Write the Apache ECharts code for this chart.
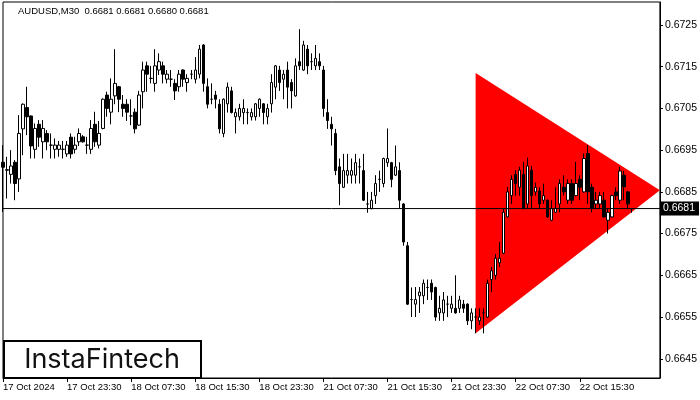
<!DOCTYPE html>
<html>
<head>
<meta charset="utf-8">
<script src="https://cdn.jsdelivr.net/npm/echarts@6/dist/echarts.min.js"></script>
<style>
html,body{margin:0;padding:0;background:#fff;}
#chart{width:700px;height:400px;}
</style>
</head>
<body>
<div id="chart"></div>
<script>
// ---- data (open, close, low, high) ----
const ohlc = [
[0.66921,0.66909,0.66802,0.66962],[0.66903,0.66902,0.66834,0.66934],[0.66892,0.66912,0.66870,0.66950],[0.66921,0.66870,0.66830,0.66926],
[0.66881,0.66990,0.66850,0.67034],[0.67001,0.67060,0.66938,0.67062],[0.67052,0.67030,0.66986,0.67102],[0.67032,0.66960,0.66930,0.67033],
[0.66952,0.67002,0.66930,0.67014],[0.67012,0.66981,0.66958,0.67022],[0.66970,0.67002,0.66930,0.67022],[0.66990,0.66970,0.66950,0.66998],
[0.66962,0.66962,0.66930,0.66990],[0.66952,0.66962,0.66930,0.66978],[0.66952,0.66962,0.66934,0.66972],[0.66952,0.66952,0.66930,0.66972],
[0.66941,0.66962,0.66934,0.66972],[0.66981,0.66941,0.66930,0.66990],[0.66952,0.66962,0.66942,0.66982],[0.66970,0.66990,0.66960,0.67002],
[0.66982,0.66970,0.66968,0.66986],[0.66962,0.66962,0.66941,0.66982],[0.66952,0.67002,0.66941,0.67022],[0.67012,0.66970,0.66958,0.67042],
[0.66962,0.66990,0.66954,0.67020],[0.67002,0.67072,0.67000,0.67074],[0.67082,0.67050,0.67030,0.67090],[0.67041,0.67072,0.67012,0.67122],
[0.67080,0.67110,0.67060,0.67192],[0.67102,0.67072,0.67041,0.67104],[0.67060,0.67050,0.67030,0.67082],[0.67060,0.67041,0.67020,0.67072],
[0.67032,0.67032,0.67010,0.67072],[0.67041,0.67001,0.66990,0.67050],[0.67010,0.67082,0.67008,0.67092],[0.67090,0.67142,0.67050,0.67162],
[0.67152,0.67132,0.67090,0.67162],[0.67122,0.67122,0.67110,0.67152],[0.67110,0.67152,0.67090,0.67192],[0.67142,0.67162,0.67130,0.67182],
[0.67152,0.67132,0.67110,0.67162],[0.67120,0.67132,0.67110,0.67142],[0.67120,0.67120,0.67102,0.67142],[0.67110,0.67092,0.67070,0.67120],
[0.67102,0.67132,0.67090,0.67142],[0.67142,0.67120,0.67102,0.67144],[0.67112,0.67122,0.67090,0.67132],[0.67132,0.67132,0.67120,0.67142],
[0.67120,0.67142,0.67110,0.67173],[0.67132,0.67192,0.67122,0.67202],[0.67202,0.67110,0.67090,0.67204],[0.67102,0.67060,0.67050,0.67122],
[0.67072,0.67072,0.67060,0.67110],[0.67082,0.67072,0.67050,0.67092],[0.67060,0.67001,0.66990,0.67072],[0.66990,0.67072,0.66981,0.67074],
[0.67061,0.67101,0.67040,0.67112],[0.67092,0.67040,0.67038,0.67102],[0.67030,0.67040,0.66990,0.67050],[0.67030,0.67050,0.67021,0.67061],
[0.67040,0.67050,0.67012,0.67072],[0.67040,0.67040,0.67012,0.67050],[0.67030,0.67040,0.67021,0.67050],[0.67030,0.67061,0.67021,0.67063],
[0.67050,0.67072,0.67030,0.67074],[0.67061,0.67040,0.67012,0.67063],[0.67030,0.67050,0.67012,0.67061],[0.67061,0.67112,0.67040,0.67132],
[0.67101,0.67152,0.67072,0.67154],[0.67142,0.67112,0.67092,0.67152],[0.67120,0.67132,0.67072,0.67142],[0.67142,0.67101,0.67050,0.67162],
[0.67112,0.67092,0.67050,0.67120],[0.67080,0.67152,0.67078,0.67170],[0.67162,0.67152,0.67142,0.67240],[0.67142,0.67202,0.67140,0.67212],
[0.67192,0.67152,0.67132,0.67202],[0.67162,0.67162,0.67142,0.67182],[0.67152,0.67170,0.67142,0.67202],[0.67162,0.67152,0.67142,0.67182],
[0.67142,0.67050,0.67030,0.67152],[0.67040,0.67021,0.67001,0.67072],[0.67012,0.67001,0.66961,0.67030],[0.66990,0.66901,0.66890,0.67001],
[0.66910,0.66870,0.66818,0.66930],[0.66861,0.66901,0.66859,0.66941],[0.66890,0.66901,0.66870,0.66941],[0.66890,0.66901,0.66870,0.66930],
[0.66890,0.66920,0.66870,0.66941],[0.66910,0.66910,0.66870,0.66930],[0.66901,0.66830,0.66828,0.66941],[0.66821,0.66821,0.66800,0.66850],
[0.66810,0.66830,0.66808,0.66850],[0.66841,0.66870,0.66821,0.66890],[0.66880,0.66880,0.66850,0.66901],[0.66870,0.66930,0.66861,0.66932],
[0.66920,0.66930,0.66910,0.67002],[0.66920,0.66880,0.66861,0.66922],[0.66890,0.66910,0.66888,0.66961],[0.66901,0.66830,0.66810,0.66921],
[0.66821,0.66730,0.66721,0.66823],[0.66721,0.66581,0.66579,0.66730],[0.66592,0.66592,0.66550,0.66621],[0.66581,0.66592,0.66550,0.66622],
[0.66601,0.66610,0.66560,0.66622],[0.66601,0.66631,0.66581,0.66640],[0.66621,0.66621,0.66591,0.66640],[0.66631,0.66610,0.66591,0.66640],
[0.66621,0.66550,0.66541,0.66623],[0.66560,0.66571,0.66541,0.66601],[0.66560,0.66591,0.66541,0.66610],[0.66581,0.66581,0.66550,0.66601],
[0.66571,0.66581,0.66560,0.66601],[0.66571,0.66560,0.66558,0.66650],[0.66571,0.66591,0.66560,0.66601],[0.66581,0.66571,0.66560,0.66591],
[0.66581,0.66541,0.66531,0.66583],[0.66541,0.66560,0.66521,0.66571],[0.66550,0.66550,0.66511,0.66571],[0.66541,0.66550,0.66531,0.66571],
[0.66560,0.66560,0.66511,0.66571],[0.66550,0.66631,0.66548,0.66640],[0.66640,0.66661,0.66610,0.66670],[0.66650,0.66691,0.66640,0.66701],
[0.66680,0.66691,0.66670,0.66730],[0.66703,0.66801,0.66701,0.66810],[0.66790,0.66850,0.66788,0.66862],[0.66841,0.66880,0.66821,0.66890],
[0.66892,0.66870,0.66841,0.66902],[0.66861,0.66902,0.66841,0.66910],[0.66892,0.66810,0.66808,0.66922],[0.66821,0.66912,0.66810,0.66932],
[0.66902,0.66841,0.66810,0.66912],[0.66850,0.66861,0.66841,0.66872],[0.66852,0.66821,0.66810,0.66861],[0.66830,0.66841,0.66821,0.66870],
[0.66830,0.66790,0.66788,0.66832],[0.66782,0.66810,0.66780,0.66830],[0.66801,0.66810,0.66799,0.66861],[0.66821,0.66870,0.66801,0.66880],
[0.66861,0.66850,0.66841,0.66890],[0.66830,0.66870,0.66821,0.66880],[0.66870,0.66830,0.66821,0.66880],[0.66841,0.66870,0.66839,0.66922],
[0.66880,0.66861,0.66830,0.66890],[0.66850,0.66930,0.66848,0.66942],[0.66942,0.66850,0.66821,0.66962],[0.66861,0.66810,0.66801,0.66870],
[0.66821,0.66830,0.66810,0.66850],[0.66821,0.66841,0.66810,0.66850],[0.66830,0.66790,0.66788,0.66850],[0.66782,0.66801,0.66750,0.66810],
[0.66790,0.66841,0.66788,0.66843],[0.66850,0.66841,0.66830,0.66861],[0.66830,0.66900,0.66821,0.66910],[0.66890,0.66862,0.66830,0.66900],
[0.66850,0.66821,0.66810,0.66852],[0.66810,0.66810,0.66800,0.66810]
];

// triangle pattern vertices (bar index, price)
const triangleBars = [118, 118, 164];
const trianglePrices = [0.67135, 0.66511, 0.66854];

const currentPrice = 0.6681;
const titleText = 'AUDUSD,M30  0.6681 0.6681 0.6680 0.6681';
const timeTickLabels = ['17 Oct 2024','17 Oct 23:30','18 Oct 07:30','18 Oct 15:30','18 Oct 23:30','21 Oct 07:30','21 Oct 15:30','21 Oct 23:30','22 Oct 07:30','22 Oct 15:30'];
const priceTickLabels = [0.6645,0.6655,0.6665,0.6675,0.6685,0.6695,0.6705,0.6715,0.6725];
const totalSlots = 165; // bars plus empty space on the right

// categories: M30 bar times starting 17 Oct 2024 15:30, skipping weekend
const categories = [];
(function(){
  let t = Date.UTC(2024, 9, 17, 15, 30);
  while (categories.length < totalSlots) {
    const d = new Date(t);
    const wd = d.getUTCDay();
    if (wd !== 0 && wd !== 6) {
      categories.push(d.toISOString().slice(0,16));
    }
    t += 30*60*1000;
  }
})();

const chart = echarts.init(document.getElementById('chart'), null, {renderer:'canvas'});
const font = 'Liberation Sans';
const showTick = function(i){ return i % 16 === 0 && i < 160; };

const option = {
  animation: false,
  backgroundColor: '#fff',
  grid: {left: 3, right: 40, top: 2, bottom: 22, show: true, borderColor: '#000', borderWidth: 1, backgroundColor: 'transparent'},
  xAxis: {
    type: 'category',
    data: categories,
    boundaryGap: false,
    axisLine: {show: true, lineStyle: {color: '#000', width: 1}},
    axisTick: {show: true, length: 4, lineStyle: {color: '#000'}, interval: showTick},
    axisLabel: {
      show: true, color: '#000', fontFamily: font, fontSize: 9.5, align: 'left', margin: 4,
      interval: showTick,
      formatter: function(v, i){ return timeTickLabels[i/16] || ''; },
      showMinLabel: true, showMaxLabel: true, hideOverlap: false
    },
    splitLine: {show: false}
  },
  yAxis: {
    type: 'value',
    position: 'right',
    min: 0.66404,
    max: 0.67305,
    scale: true,
    axisLine: {show: true, lineStyle: {color: '#000'}},
    axisTick: {show: true, length: 3, lineStyle: {color: '#000'}, customValues: priceTickLabels},
    axisLabel: {show: true, color: '#000', fontFamily: font, fontSize: 10.5, margin: 5,
      customValues: priceTickLabels, formatter: function(v){ return v.toFixed(4); }},
    splitLine: {show: false}
  },
  graphic: [
    {type: 'text', left: 18, top: 6, z: 100, style: {text: titleText, fill: '#000', font: '9.5px "Liberation Sans"'}},
    {type: 'rect', shape: {x: 4, y: 341, width: 197, height: 37}, z: 100,
     style: {fill: '#fff', stroke: '#000', lineWidth: 2}},
    {type: 'text', x: 102, y: 360, z: 101,
     style: {text: 'InstaFintech', fill: '#111', font: '400 27px Inter', textAlign: 'center', textVerticalAlign: 'middle'}}
  ],
  series: [
    {
      type: 'custom',
      z: 1,
      silent: true,
      clip: true,
      data: [[0]],
      renderItem: function(params, api){
        const pts = triangleBars.map(function(b, i){ return api.coord([b, trianglePrices[i]]); });
        return {type: 'polygon', shape: {points: pts}, style: {fill: '#ff0000', stroke: null}};
      }
    },
    {
      type: 'candlestick',
      z: 3,
      silent: true,
      barWidth: 3,
      data: ohlc,
      itemStyle: {color: '#fff', color0: '#000', borderColor: '#000', borderColor0: '#000', borderWidth: 1}
    },
    {
      type: 'line',
      z: 4,
      silent: true,
      symbol: 'none',
      data: [[0, currentPrice], [totalSlots - 1, currentPrice]],
      lineStyle: {color: '#000', width: 1},
      endLabel: {show: true, distance: 0, formatter: currentPrice.toFixed(4),
        color: '#fff', backgroundColor: '#000', fontFamily: font, fontSize: 10.5, padding: [2, 4, 1, 3]}
    }
  ]
};
chart.setOption(option);
</script>
</body>
</html>
